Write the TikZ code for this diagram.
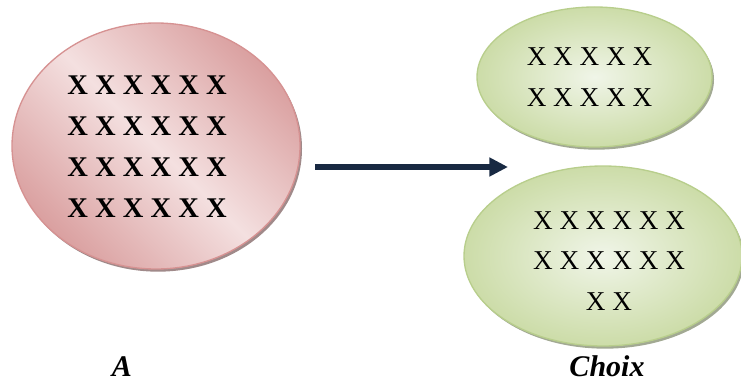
\documentclass[tikz,border=0pt]{standalone}
\usepackage{fontspec}
\setmainfont{Liberation Serif}
\usepackage{tikz}
\usetikzlibrary{shapes.geometric, shadows, arrows.meta}

\definecolor{roseClair}{RGB}{244,224,224}
\definecolor{roseFonce}{RGB}{218,160,160}
\definecolor{roseBord}{RGB}{214,146,146}
\definecolor{vertClair}{RGB}{240,245,232}
\definecolor{vertFonce}{RGB}{204,220,168}
\definecolor{vertBord}{RGB}{184,206,140}
\definecolor{fleche}{RGB}{24,41,66}

\tikzset{
  ensrouge/.style={ellipse, inner sep=0pt, draw=roseBord, line width=1pt,
    top color=roseFonce, bottom color=roseFonce, middle color=roseClair,
    shading angle=-45,
    drop shadow={shadow xshift=1.5pt, shadow yshift=-2pt, fill=black!45!roseFonce, opacity=.7}},
  ensvert/.style={ellipse, inner sep=0pt, draw=vertBord, line width=1pt,
    inner color=vertClair, outer color=vertFonce,
    drop shadow={shadow xshift=1.5pt, shadow yshift=-2pt, fill=black!40!vertFonce, opacity=.7}},
  txtrouge/.style={align=center, inner sep=0pt, font=\fontsize{21.4pt}{30.75pt}\selectfont\bfseries},
  txtvert/.style={align=center, inner sep=0pt, font=\fontsize{20.4pt}{30.5pt}\selectfont},
  etiq/.style={anchor=base, inner sep=0pt, text depth=0pt, font=\fontsize{22.5pt}{27pt}\selectfont\bfseries\itshape}
}

\begin{document}
\begin{tikzpicture}[x=0.75pt, y=-0.75pt]
  \useasboundingbox (0,0) rectangle (741,381);

  % Ensemble de depart
  \node[ensrouge, minimum width=216pt, minimum height=184.5pt] (A) at (156,146) {};
  \node[txtrouge] (tA) at (147,147)
    {X X X X X X\\X X X X X X\\X X X X X X\\X X X X X X};

  % Les deux parties
  \node[ensvert, minimum width=176.25pt, minimum height=105pt] (C1) at (594.5,77) {};
  \node[txtvert] (tC1) at (589.5,77) {X X X X X\\X X X X X};
  \node[ensvert, minimum width=208.5pt, minimum height=135pt] (C2) at (603,256) {};
  \node[txtvert] (tC2) at (609,261) {X X X X X X\\X X X X X X\\X X};

  % Fleche
  \coordinate (P) at (315,167);
  \coordinate (Q) at (508,167);
  \draw[fleche, line width=3.9pt, -{Triangle[length=14pt, width=13.5pt]}] (P) -- (Q);

  % Etiquettes
  \node[etiq] (la) at (122,376) {A};
  \node[etiq] (lc) at (607,376) {Choix};
\end{tikzpicture}
\end{document}
